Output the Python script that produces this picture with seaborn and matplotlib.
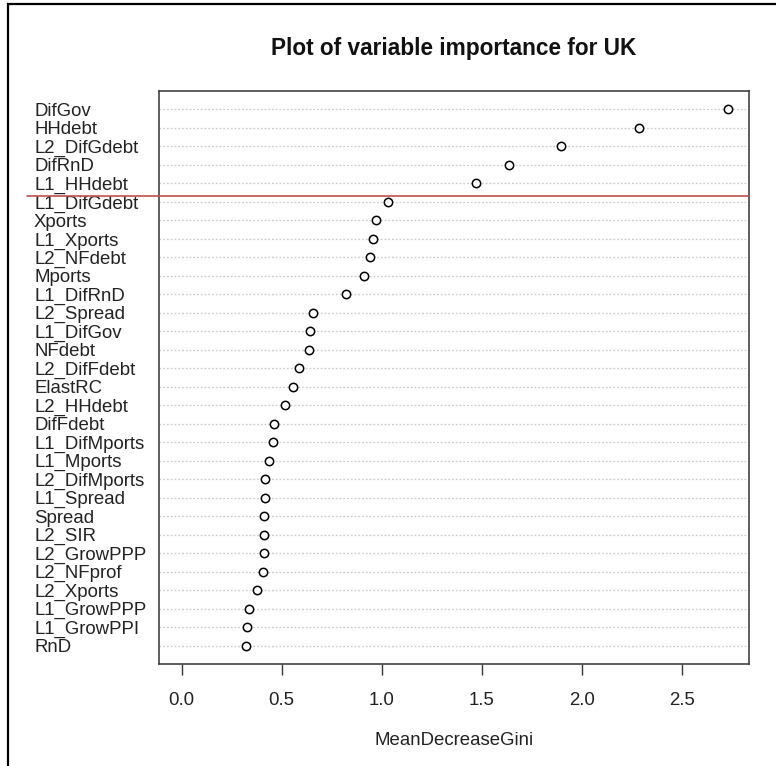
import seaborn as sns
import pandas as pd
import matplotlib.pyplot as plt
from matplotlib.lines import Line2D
from matplotlib.patches import Rectangle
from matplotlib.transforms import blended_transform_factory

# variable importance values (top to bottom)
variables = ["DifGov", "HHdebt", "L2_DifGdebt", "DifRnD", "L1_HHdebt",
             "L1_DifGdebt", "Xports", "L1_Xports", "L2_NFdebt", "Mports",
             "L1_DifRnD", "L2_Spread", "L1_DifGov", "NFdebt", "L2_DifFdebt",
             "ElastRC", "L2_HHdebt", "DifFdebt", "L1_DifMports", "L1_Mports",
             "L2_DifMports", "L1_Spread", "Spread", "L2_SIR", "L2_GrowPPP",
             "L2_NFprof", "L2_Xports", "L1_GrowPPP", "L1_GrowPPI", "RnD"]
gini = [2.73, 2.288, 1.897, 1.635, 1.47,
        1.033, 0.97, 0.958, 0.94, 0.911,
        0.823, 0.658, 0.64, 0.635, 0.587,
        0.557, 0.518, 0.463, 0.458, 0.435,
        0.417, 0.416, 0.411, 0.411, 0.41,
        0.406, 0.375, 0.338, 0.328, 0.322]
x_ticks = [0.0, 0.5, 1.0, 1.5, 2.0, 2.5]

df = pd.DataFrame({"variable": variables, "MeanDecreaseGini": gini})

sns.set_style("white")
plt.rcParams["font.family"] = ["Liberation Sans", "DejaVu Sans"]

fig = plt.figure(figsize=(7.76, 7.66), dpi=100)
ax = fig.add_axes([159 / 776, 1 - 664 / 766, 590 / 776, 573 / 766])

sns.stripplot(data=df, x="MeanDecreaseGini", y="variable", order=variables,
              jitter=False, color="white", edgecolor="black", linewidth=1.1,
              size=6, ax=ax, zorder=3)

ax.set_xlim(-0.1135, 2.8365)
ax.set_ylim(30, -1)
ax.set_xticks(x_ticks)
ax.set_xticklabels([f"{t:.1f}" for t in x_ticks])

# dotted row guides like R's dotchart
ax.grid(axis="y", color="#cccccc", linestyle=(0, (1.5, 1.5)), linewidth=0.9)
ax.grid(axis="x", visible=False)
ax.set_axisbelow(True)

for side in ["left", "right", "top", "bottom"]:
    ax.spines[side].set_color("#333333")
    ax.spines[side].set_linewidth(1.1)

ax.tick_params(axis="x", bottom=True, length=8, width=1, color="#333333",
               pad=12, labelsize=13.4, labelcolor="#222222")
ax.tick_params(axis="y", length=0, pad=90, labelsize=13.4, labelcolor="#222222")
for lbl in ax.get_yticklabels():
    lbl.set_ha("left")

ax.set_ylabel("")
ax.set_xlabel("MeanDecreaseGini", fontsize=13.4, color="#222222", va="top")
ax.xaxis.set_label_coords(0.5, -0.119)

fig.text(454 / 776, 1 - 55 / 766, "Plot of variable importance for UK",
         ha="center", va="baseline", fontsize=16.3, fontweight="bold",
         color="#111111")

# red separator line drawn across the label area
trans = blended_transform_factory(fig.transFigure, ax.transData)
fig.add_artist(Line2D([27 / 776, 749 / 776], [4.66, 4.66], transform=trans,
                      color="#c0504d", linewidth=1.2))

# outer frame (left and top edges visible)
fig.add_artist(Rectangle((7.5 / 776, -0.1), 1.2, 1.1 - 4.5 / 766,
                         transform=fig.transFigure, fill=False,
                         edgecolor="black", linewidth=1.6))

fig.savefig("out.png", dpi=100)
